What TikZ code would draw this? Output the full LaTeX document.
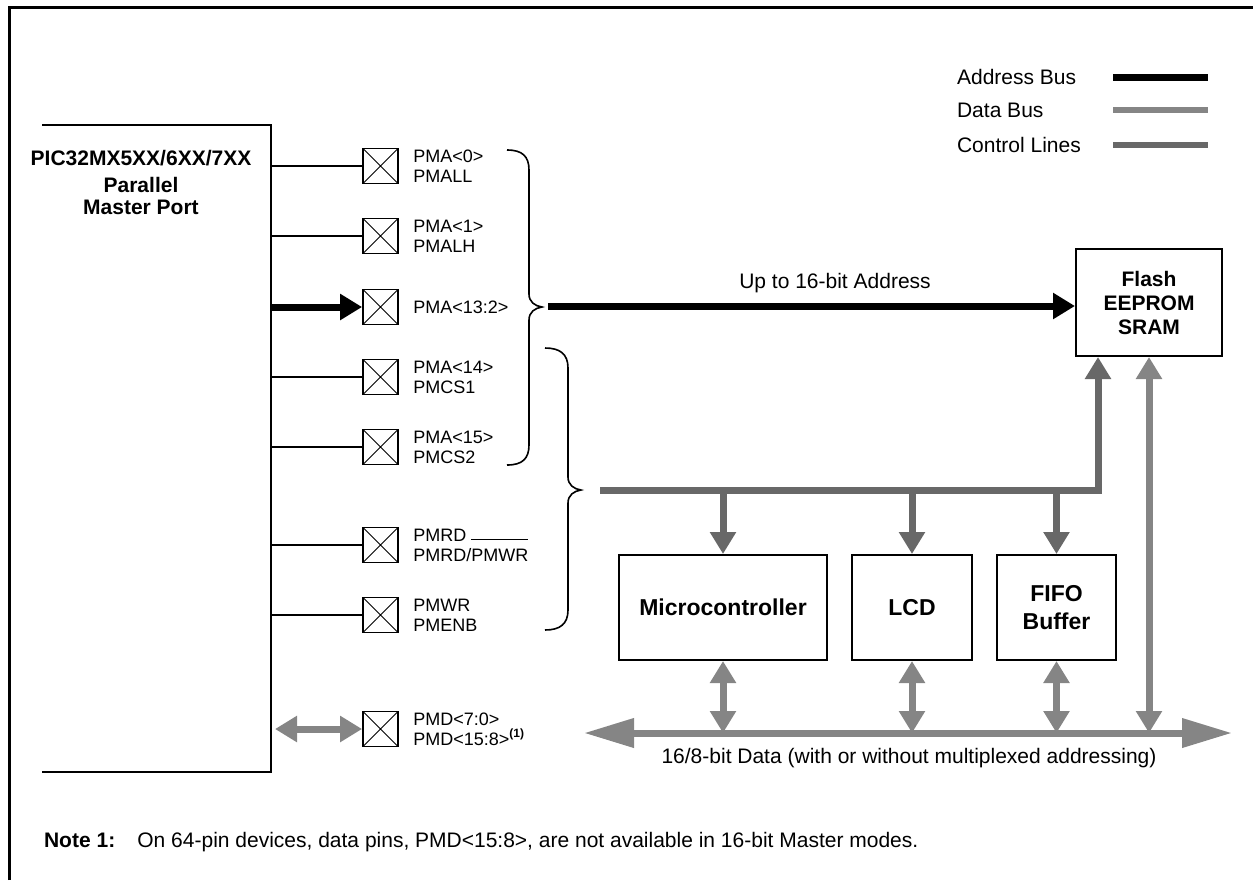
\documentclass[tikz,border=0pt]{standalone}
\usepackage{fontspec}
\setmainfont{Liberation Sans}
\usetikzlibrary{arrows.meta,positioning}
\definecolor{databus}{RGB}{133,133,133}
\definecolor{ctrlbus}{RGB}{104,104,104}

\begin{document}
\begin{tikzpicture}[x=0.5pt,y=-0.5pt,font=\fontsize{9}{10}\selectfont,
  >={Triangle[length=11pt,width=12.5pt]},
  pinbox/.style={draw,line width=0.9pt,minimum size=17.5pt,inner sep=0pt,
    path picture={\draw[line width=0.45pt]
      (path picture bounding box.north west) -- (path picture bounding box.south east)
      (path picture bounding box.south west) -- (path picture bounding box.north east);}},
  pinlbl/.style={align=left,inner sep=0pt},
  dev/.style={draw,line width=1pt,align=center,inner sep=0pt,
    font=\fontsize{11.5}{14}\selectfont\bfseries},
  txt/.style={font=\fontsize{10.5}{12}\selectfont},
  pinline/.style={line width=0.8pt},
  addr/.style={line width=3.5pt},
  ctrl/.style={ctrlbus,line width=3.5pt},
  data/.style={databus,line width=3.5pt},
  brace/.style={line width=0.8pt}]
\useasboundingbox (0,0) rectangle (1253,880);
\draw[line width=1.5pt] (9,880) -- (9,7) -- (1253,7);

% legend
\node[txt,anchor=west] (leg1) at (950,77) {Address Bus};
\node[txt,anchor=west] (leg2) at (950,110) {Data Bus};
\node[txt,anchor=west] (leg3) at (950,145) {Control Lines};
\draw[addr] (1113,77) -- (1208,77);
\draw[data,line width=3pt] (1113,110) -- (1208,110);
\draw[ctrl,line width=3pt] (1113,145) -- (1208,145);

% parallel master port
\draw[line width=1pt] (42,125) -- (271,125) -- (271,772) -- (42,772);
\coordinate (pmpR) at (271,0);
\node[font=\fontsize{10.5}{11}\selectfont\bfseries] (pmp) at (141,158) {PIC32MX5XX/6XX/7XX};
\node[font=\fontsize{10.5}{11}\selectfont\bfseries,align=center] (pmpsub) at (141,196)
  {Parallel\\Master Port};

% pins
\node[pinbox] (pa0) at (380.5,166) {};
\node[pinbox] (pa1) at (380.5,236) {};
\node[pinbox] (pa2) at (380.5,307) {};
\node[pinbox] (pcs1) at (380.5,377) {};
\node[pinbox] (pcs2) at (380.5,447) {};
\node[pinbox] (prd) at (380.5,545) {};
\node[pinbox] (pwr) at (380.5,615) {};
\node[pinbox] (pmd) at (380.5,729) {};
\node[pinlbl,right=7pt of pa0] (lpa0) {PMA<0>\\PMALL};
\node[pinlbl,right=7pt of pa1] (lpa1) {PMA<1>\\PMALH};
\node[pinlbl,right=7pt of pa2] (lpa2) {PMA<13:2>};
\node[pinlbl,right=7pt of pcs1] (lcs1) {PMA<14>\\PMCS1};
\node[pinlbl,right=7pt of pcs2] (lcs2) {PMA<15>\\PMCS2};
\node[pinlbl,right=7pt of prd] (lrd)
  {PMRD\\PMRD/\smash{$\overline{\mbox{\rule{0pt}{9.5pt}PMWR}}$}};
\node[pinlbl,right=7pt of pwr] (lwr) {PMWR\\PMENB};
\node[pinlbl,right=7pt of pmd] (lmd)
  {PMD<7:0>\\PMD<15:8>\textsuperscript{\bfseries(1)}};
\draw[pinline] (pa0.west -| pmpR) -- (pa0.west);
\draw[pinline] (pa1.west -| pmpR) -- (pa1.west);
\draw[addr,->] (pa2.west -| pmpR) -- (pa2.west);
\draw[pinline] (pcs1.west -| pmpR) -- (pcs1.west);
\draw[pinline] (pcs2.west -| pmpR) -- (pcs2.west);
\draw[pinline] (prd.west -| pmpR) -- (prd.west);
\draw[pinline] (pwr.west -| pmpR) -- (pwr.west);
\draw[data,<->] ([xshift=2pt]pmd.west -| pmpR) -- (pmd.west);

% braces
\draw[brace] (507,150) .. controls (522,150) and (529,156) .. (529,170) -- (529,294)
  .. controls (529,302) and (535,306) .. (542,307)
  .. controls (535,308) and (529,312) .. (529,320) -- (529,445)
  .. controls (529,459) and (522,465) .. (507,465);
\draw[brace] (545,348) .. controls (560,348) and (568,354) .. (568,368) -- (568,477)
  .. controls (568,485) and (574,489) .. (581,490)
  .. controls (574,491) and (568,495) .. (568,503) -- (568,610)
  .. controls (568,624) and (560,630) .. (545,630);

% memory and peripherals
\node[dev,font=\fontsize{10.5}{12}\selectfont\bfseries,minimum width=73pt,
  minimum height=53.5pt] (flash) at (1149,302.5) {Flash\\EEPROM\\SRAM};
\node[dev,minimum width=104pt,minimum height=52.5pt] (mcu) at (723,607.5) {Microcontroller};
\node[dev,minimum width=60pt,minimum height=52.5pt,right=11.5pt of mcu] (lcd) {LCD};
\node[dev,minimum width=59.5pt,minimum height=52.5pt,right=11.5pt of lcd] (fifo)
  {FIFO\\Buffer};

% address bus
\coordinate (abus) at (548,306);
\draw[addr,->] (abus) -- (abus -| flash.west);
\node[txt] (albl) at (835,283) {Up to 16-bit Address};

% control lines
\coordinate (cbus) at (600,490);
\draw[ctrl,->] (cbus) -| ([xshift=11.5pt]flash.south west);
\draw[ctrl,->] (cbus -| mcu.north) -- (mcu.north);
\draw[ctrl,->] (cbus -| lcd.north) -- (lcd.north);
\draw[ctrl,->] (cbus -| fifo.north) -- (fifo.north);

% data bus
\coordinate (dbl) at (584,733);
\coordinate (dbr) at (1232,733);
\draw[data,{Triangle[length=25pt,width=14pt]}-{Triangle[length=25pt,width=14pt]}]
  (dbl) -- (dbr);
\draw[data,<->] (mcu.south) -- (mcu.south |- dbl);
\draw[data,<->] (lcd.south) -- (lcd.south |- dbl);
\draw[data,<->] (fifo.south) -- (fifo.south |- dbl);
\draw[data,<->] (flash.south) -- (flash.south |- dbl);
\node[txt] (dlbl) at (909,758) {16/8-bit Data (with or without multiplexed addressing)};

% note
\node[anchor=west,font=\fontsize{10.5}{12}\selectfont] (note) at (37,842)
  {\textbf{Note\hspace{3pt}1:}\hspace{11pt}On 64-pin devices, data pins, PMD<15:8>, are not available in 16-bit Master modes.};
\end{tikzpicture}
\end{document}
